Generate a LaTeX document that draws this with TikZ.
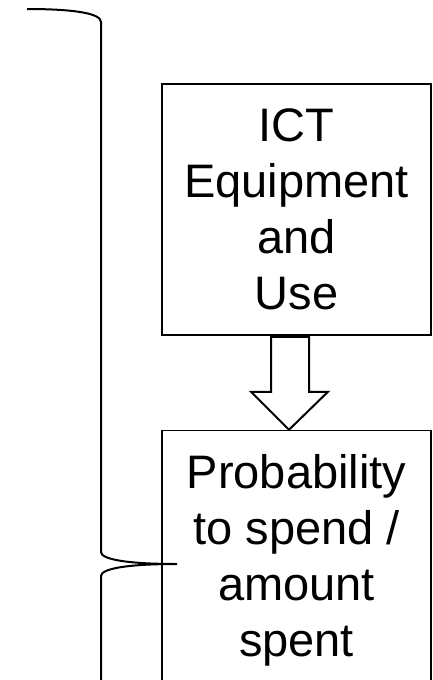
\documentclass[tikz,border=0pt]{standalone}
\usepackage{fontspec}
\setmainfont{Liberation Sans}
\usetikzlibrary{positioning,shapes,arrows}

\tikzset{
  factor/.style={draw, line width=1.5pt, minimum width=269pt, align=center,
    font=\fontsize{47}{56}\selectfont, inner sep=0pt},
  blockarrow/.style={draw, line width=2pt, fill=white, line join=miter},
  brace/.style={draw, line width=2pt}
}

\begin{document}
\begin{tikzpicture}[x=1pt, y=-1pt, node distance=94pt]
\clip (0,0) rectangle (432,680);
\node[factor, minimum height=251pt] (ict) at (296.5,209.5) {ICT\\Equipment\\and\\Use};
\node[factor, minimum height=260pt, below = of ict] (prob) {Probability\\to spend /\\amount\\spent};
% block arrow between the two boxes
\draw[blockarrow] ([xshift=-7.5pt]prob.north) -- ++(-38,-38) -- ++(20,0) -- ++(0,-55)
  -- ++(38,0) -- ++(0,55) -- ++(19,0) -- cycle;
% brace on the left
\coordinate (tip) at (177,564);
\draw[brace] (27,9) .. controls (72,9) and (101,13) .. (101,22) -- (101,552)
  .. controls (101,559) and (125,564) .. (tip)
  .. controls (125,564) and (101,569) .. (101,576) -- (101,700);
\end{tikzpicture}
\end{document}
